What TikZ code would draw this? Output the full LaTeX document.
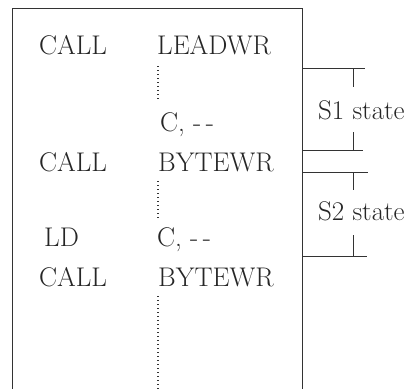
\documentclass[tikz,border=0pt]{standalone}
\begin{document}
\begin{tikzpicture}[x=1pt, y=-1pt,
    every node/.style={inner sep=0pt, anchor=base west, text=black!85, font=\fontsize{27}{31}\selectfont},
    frame/.style={draw=black!80, line width=1pt},
    dots/.style={draw=black!80, line width=1.4pt, dash pattern=on 1pt off 3pt}]
        \useasboundingbox (0,0) rectangle (416,389);

        % program box, open at the bottom
        \draw[frame] (12,389) -- (12,8) -- (302,8) -- (302,389);

        \node(op1) at (39,54){CALL};
        \node(arg1) at (157,54){LEADWR};
        \node(arg2) at (160,131){C, -\,-};
        \node(op3) at (39,171){CALL};
        \node(arg3) at (158,171){BYTEWR};
        \node(op4) at (44,246){LD};
        \node(arg4) at (157,246){C, -\,-};
        \node(op5) at (39,286){CALL};
        \node(arg5) at (158,286){BYTEWR};

        \draw[dots] (158,66) -- (158,102);
        \draw[dots] (158,181) -- (158,219);
        \draw[dots] (158,296) -- (158,389);

        % state brackets
        \node(s1) at (318,119){S1 state};
        \node(s2) at (318,220){S2 state};

        \draw[frame] (302,68) -- (365,68);
        \draw[frame] (353,68) -- (353,87);
        \draw[frame] (353,132) -- (353,150);
        \draw[frame] (302,150) -- (363,150);

        \draw[frame] (302,172) -- (368,172);
        \draw[frame] (353,172) -- (353,190);
        \draw[frame] (353,235) -- (353,256);
        \draw[frame] (302,256) -- (367,256);
    \end{tikzpicture}
\end{document}
